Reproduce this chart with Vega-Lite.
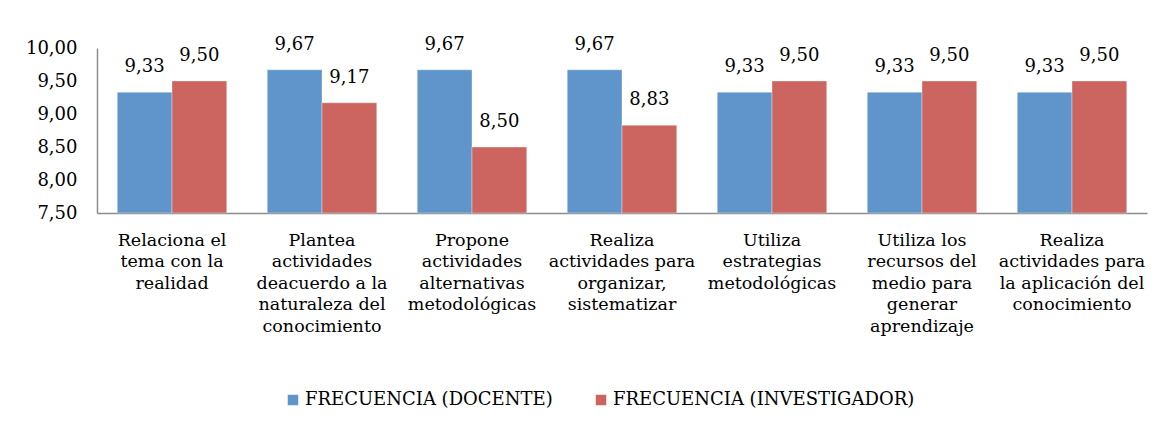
{
  "$schema": "https://vega.github.io/schema/vega-lite/v6.json",
  "width": 1050,
  "height": 165,
  "autosize": {"type": "none"},
  "padding": {"left": 97, "top": 48, "right": 23, "bottom": 221},
  "background": "white",
  "config": {
    "locale": {"number": {"decimal": ",", "thousands": ".", "grouping": [3], "currency": ["", " €"]}},
    "font": "DejaVu Serif",
    "view": {"stroke": null}
  },
  "data": {
    "values": [
      {"criterio": "Relaciona el|tema con la|realidad", "serie": "FRECUENCIA (DOCENTE)", "valor": 9.33},
      {"criterio": "Relaciona el|tema con la|realidad", "serie": "FRECUENCIA (INVESTIGADOR)", "valor": 9.5},
      {"criterio": "Plantea|actividades|deacuerdo a la|naturaleza del|conocimiento", "serie": "FRECUENCIA (DOCENTE)", "valor": 9.67},
      {"criterio": "Plantea|actividades|deacuerdo a la|naturaleza del|conocimiento", "serie": "FRECUENCIA (INVESTIGADOR)", "valor": 9.17},
      {"criterio": "Propone|actividades|alternativas|metodológicas", "serie": "FRECUENCIA (DOCENTE)", "valor": 9.67},
      {"criterio": "Propone|actividades|alternativas|metodológicas", "serie": "FRECUENCIA (INVESTIGADOR)", "valor": 8.5},
      {"criterio": "Realiza|actividades para|organizar,|sistematizar", "serie": "FRECUENCIA (DOCENTE)", "valor": 9.67},
      {"criterio": "Realiza|actividades para|organizar,|sistematizar", "serie": "FRECUENCIA (INVESTIGADOR)", "valor": 8.83},
      {"criterio": "Utiliza|estrategias|metodológicas", "serie": "FRECUENCIA (DOCENTE)", "valor": 9.33},
      {"criterio": "Utiliza|estrategias|metodológicas", "serie": "FRECUENCIA (INVESTIGADOR)", "valor": 9.5},
      {"criterio": "Utiliza los|recursos del|medio para|generar|aprendizaje", "serie": "FRECUENCIA (DOCENTE)", "valor": 9.33},
      {"criterio": "Utiliza los|recursos del|medio para|generar|aprendizaje", "serie": "FRECUENCIA (INVESTIGADOR)", "valor": 9.5},
      {"criterio": "Realiza|actividades para|la aplicación del|conocimiento", "serie": "FRECUENCIA (DOCENTE)", "valor": 9.33},
      {"criterio": "Realiza|actividades para|la aplicación del|conocimiento", "serie": "FRECUENCIA (INVESTIGADOR)", "valor": 9.5}
    ]
  },
  "encoding": {
    "x": {
      "field": "criterio", "type": "nominal", "sort": null, "title": null,
      "scale": {"paddingInner": 0.27, "paddingOuter": 0.135},
      "axis": {
        "labelExpr": "split(datum.label, '|')",
        "labelAngle": 0, "labelFontSize": 17.5, "labelColor": "#000",
        "labelLineHeight": 21.5, "labelBaseline": "top", "labelPadding": 18,
        "ticks": false, "domainColor": "#8c8c8c", "domainWidth": 1.5, "labelLimit": 0
      }
    },
    "xOffset": {"field": "serie", "type": "nominal", "sort": ["FRECUENCIA (DOCENTE)", "FRECUENCIA (INVESTIGADOR)"], "scale": {"paddingInner": 0}},
    "y": {
      "field": "valor", "type": "quantitative", "title": null,
      "scale": {"domain": [7.5, 10], "zero": false, "nice": false},
      "axis": {
        "values": [7.5, 8, 8.5, 9, 9.5, 10], "format": ".2f", "grid": false,
        "ticks": false, "labelPadding": 20, "labelFontSize": 18, "labelColor": "#000",
        "domainColor": "#8c8c8c", "domainWidth": 1.5
      }
    }
  },
  "layer": [
    {
      "mark": {"type": "bar", "stroke": "white", "strokeOpacity": 0.35, "strokeWidth": 1},
      "encoding": {
        "y2": {"datum": 7.5},
        "color": {
          "field": "serie", "type": "nominal", "title": null,
          "scale": {"domain": ["FRECUENCIA (DOCENTE)", "FRECUENCIA (INVESTIGADOR)"], "range": ["#5F95CA", "#CC6560"]},
          "legend": {
            "orient": "none", "direction": "horizontal", "legendX": 187, "legendY": 343,
            "symbolType": "square", "symbolSize": 110, "symbolStrokeWidth": 0,
            "labelFontSize": 18, "labelColor": "#000", "columnPadding": 39, "labelOffset": 3, "labelLimit": 0
          }
        }
      }
    },
    {
      "mark": {"type": "text", "baseline": "bottom", "dy": -16, "fontSize": 18, "color": "#000"},
      "encoding": {
        "text": {"field": "valor", "type": "quantitative", "format": ".2f"}
      }
    }
  ]
}
